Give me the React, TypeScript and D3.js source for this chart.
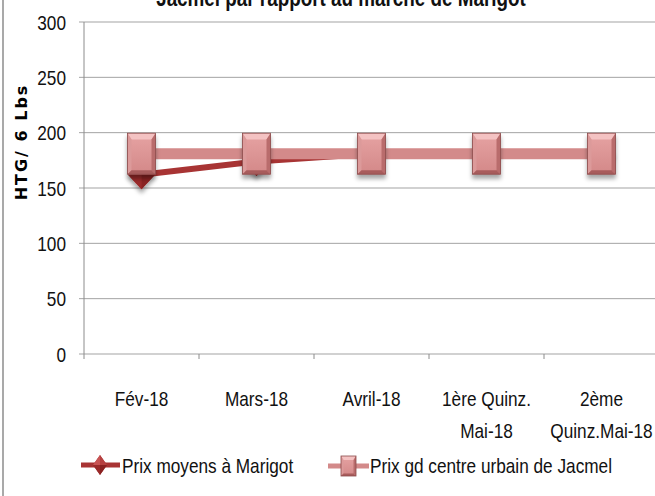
import React from "react";
import * as d3 from "d3";

const categories: string[][] = [
  ["Fév-18"],
  ["Mars-18"],
  ["Avril-18"],
  ["1ère Quinz.", "Mai-18"],
  ["2ème", "Quinz.Mai-18"],
];
const marigot: number[] = [162, 174, 181, 181, 181];
const jacmel: number[] = [181, 181, 181, 181, 181];
const yTicks: number[] = [0, 50, 100, 150, 200, 250, 300];
const seriesNames = ["Prix moyens à Marigot", "Prix gd centre urbain de Jacmel"];
const titleText = "Jacmel par rapport au marché de Marigot";
const yTitle = "HTG/ 6 Lbs";

const W = 655;
const H = 496;
const FONT = "'Liberation Sans', Arial, sans-serif";
const SX = 0.82;
const RED = "#a83434";
const PINK = "#d38a8a";

function NText({
  x,
  y,
  anchor = "start",
  size = 21,
  weight = "normal",
  children,
}: {
  x: number;
  y: number;
  anchor?: "start" | "middle" | "end";
  size?: number;
  weight?: string;
  children: React.ReactNode;
}) {
  return (
    <text
      transform={`translate(${x},${y}) scale(${SX},1)`}
      textAnchor={anchor}
      fontSize={size}
      fontWeight={weight}
      fontFamily={FONT}
      fill="#111"
    >
      {children}
    </text>
  );
}

function Diamond({ cx, cy, w, h, shadow }: { cx: number; cy: number; w: number; h: number; shadow?: boolean }) {
  const hw = w / 2, hh = h / 2;
  return (
    <g filter={shadow ? "url(#shadow)" : undefined}>
      <polygon points={`${cx},${cy - hh} ${cx + hw},${cy} ${cx},${cy + hh} ${cx - hw},${cy}`} fill={RED} />
      <polygon points={`${cx},${cy - hh} ${cx},${cy} ${cx - hw},${cy}`} fill="#c85454" />
      <polygon points={`${cx},${cy - hh} ${cx + hw},${cy} ${cx},${cy}`} fill="#b64040" />
      <polygon points={`${cx - hw},${cy} ${cx},${cy} ${cx},${cy + hh}`} fill="#9a2a2a" />
      <polygon points={`${cx + hw},${cy} ${cx},${cy} ${cx},${cy + hh}`} fill="#8a2222" />
    </g>
  );
}

function BevelSquare({ cx, cy, w, h, b, shadow }: { cx: number; cy: number; w: number; h: number; b: number; shadow?: boolean }) {
  const x0 = cx - w / 2, x1 = cx + w / 2, y0 = cy - h / 2, y1 = cy + h / 2;
  return (
    <g filter={shadow ? "url(#shadow)" : undefined}>
      <rect x={x0} y={y0} width={w} height={h} fill="url(#faceGrad)" />
      <polygon points={`${x0},${y0} ${x1},${y0} ${x1 - b},${y0 + b * 1.6} ${x0 + b},${y0 + b * 1.6}`} fill="#f4c2c2" />
      <polygon points={`${x0},${y0} ${x0 + b},${y0 + b * 1.6} ${x0 + b},${y1 - b} ${x0},${y1}`} fill="#dc9a9a" />
      <polygon points={`${x1},${y0} ${x1 - b},${y0 + b * 1.6} ${x1 - b},${y1 - b} ${x1},${y1}`} fill="#b96c6c" />
      <polygon points={`${x0},${y1} ${x0 + b},${y1 - b} ${x1 - b},${y1 - b} ${x1},${y1}`} fill="#a85c5c" />
      <rect x={x0} y={y0} width={w} height={h} fill="none" stroke="#8a4a4a" strokeWidth={0.8} />
    </g>
  );
}

export default function App() {
  const x = d3.scaleBand<number>().domain(d3.range(categories.length)).range([84, 659]).padding(0);
  const y = d3.scaleLinear().domain([0, 300]).range([354, 22]);
  const cx = (i: number) => (x(i) as number) + x.bandwidth() / 2;

  const line = d3
    .line<number>()
    .x((_, i) => cx(i))
    .y((d) => y(d));

  const boundaries = d3.range(categories.length + 1).map((i) => 84 + i * x.bandwidth());

  return (
    <svg width={W} height={H} style={{ position: "absolute", left: 0, top: 0, background: "#fff" }}>
      <defs>
        <filter id="shadow" x="-50%" y="-50%" width="200%" height="200%">
          <feDropShadow dx="0" dy="4" stdDeviation="2" floodColor="#000" floodOpacity="0.35" />
        </filter>
        <linearGradient id="faceGrad" x1="0" y1="0" x2="0" y2="1">
          <stop offset="0" stopColor="#e6a3a3" />
          <stop offset="1" stopColor="#d38888" />
        </linearGradient>
      </defs>
      <rect x={0} y={0} width={W} height={H} fill="#fff" />
      <line x1={3} x2={3} y1={0} y2={H} stroke="#8c8c8c" strokeWidth={1.5} />

      {/* title (cut off at top, as in the reference) */}
      <NText x={341} y={6} anchor="middle" size={23} weight="bold">
        {titleText}
      </NText>

      {/* gridlines */}
      {yTicks.map((t) => (
        <line key={t} x1={79} x2={W} y1={y(t)} y2={y(t)} stroke="#a3a3a3" strokeWidth={1} />
      ))}
      {/* y axis */}
      <line x1={84} x2={84} y1={y(300)} y2={y(0)} stroke="#8c8c8c" strokeWidth={1} />
      {boundaries.map((bx, i) => (
        <line key={i} x1={bx} x2={bx} y1={y(0)} y2={y(0) + 5} stroke="#8c8c8c" strokeWidth={1} />
      ))}
      {yTicks.map((t) => (
        <NText key={t} x={66} y={y(t) + 7.5} anchor="end">
          {t}
        </NText>
      ))}

      {/* y title */}
      <text
        transform={`translate(27,142) rotate(-90)`}
        textAnchor="middle"
        fontSize={16}
        fontWeight="bold"
        letterSpacing={2}
        fontFamily="'DejaVu Sans', sans-serif"
        fill="#000"
      >
        {yTitle}
      </text>

      {/* x labels */}
      {categories.map((lines, i) =>
        lines.map((l, j) => (
          <NText key={`${i}-${j}`} x={cx(i)} y={406 + j * 32} anchor="middle">
            {l}
          </NText>
        ))
      )}

      {/* Marigot series */}
      <path d={line(marigot) || ""} fill="none" stroke={RED} strokeWidth={6} />
      {marigot.map((v, i) => (
        <Diamond key={i} cx={cx(i)} cy={y(v)} w={27} h={29} shadow />
      ))}

      {/* Jacmel series */}
      <path d={line(jacmel) || ""} fill="none" stroke={PINK} strokeWidth={11} />
      {jacmel.map((v, i) => (
        <BevelSquare key={i} cx={cx(i)} cy={y(v)} w={28} h={41} b={4} shadow />
      ))}

      {/* legend */}
      <line x1={81} x2={120} y1={465} y2={465} stroke={RED} strokeWidth={5} />
      <Diamond cx={100} cy={465} w={14} h={20} />
      <NText x={122} y={473}>{seriesNames[0]}</NText>
      <line x1={328} x2={369} y1={466} y2={466} stroke={PINK} strokeWidth={5} />
      <BevelSquare cx={348.5} cy={466} w={15} h={20} b={2.5} />
      <NText x={370} y={473}>{seriesNames[1]}</NText>
    </svg>
  );
}
